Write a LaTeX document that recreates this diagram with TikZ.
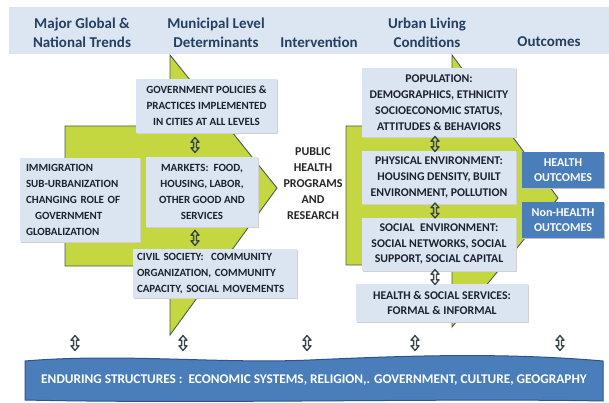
\documentclass[tikz,border=0pt]{standalone}
\usepackage{fontspec}
\setmainfont{Carlito}
\definecolor{lime}{RGB}{196,214,64}
\definecolor{limeedge}{RGB}{70,95,80}
\definecolor{boxblue}{RGB}{219,229,241}
\definecolor{hdrblue}{RGB}{220,230,242}
\definecolor{outblue}{RGB}{74,126,187}
\definecolor{outedge}{RGB}{47,82,143}
\definecolor{hdrtext}{RGB}{36,63,96}
\definecolor{boxtext}{RGB}{28,34,44}
\definecolor{arrowgray}{RGB}{55,68,72}
\tikzset{
  box/.style={fill=boxblue, text=boxtext, inner sep=0pt, align=center,
    font=\bfseries\fontsize{11}{16}\selectfont,
    preaction={fill=black!18, transform canvas={xshift=1.2pt,yshift=-1.2pt}}},
  rbox/.style={box, font=\bfseries\fontsize{11.8}{15.8}\selectfont},
  hdr/.style={text=hdrtext, align=center, inner sep=0pt,
    font=\bfseries\fontsize{15}{19}\selectfont},
  outbox/.style={fill=outblue, text=white, inner sep=0pt, align=center,
    minimum width=82pt, minimum height=36pt,
    font=\bfseries\fontsize{12}{15}\selectfont,
    preaction={fill=black!25, transform canvas={xshift=1.2pt,yshift=-1.2pt}}},
  greenshape/.style={fill=lime, draw=limeedge, line width=0.9pt, line join=miter},
  dblline/.style={draw=arrowgray, line width=1.3pt, line join=round},
  updown/.pic={
    \path[dblline] (0,-7.5) -- (4,-2.8) -- (1.4,-2.8) -- (1.4,2.8) -- (4,2.8)
      -- (0,7.5) -- (-4,2.8) -- (-1.4,2.8) -- (-1.4,-2.8) -- (-4,-2.8) -- cycle;
  }
}
\begin{document}
\begin{tikzpicture}[x=1pt,y=-1pt]
\useasboundingbox (0,0) rectangle (609,403);
\fill[white] (0,0) rectangle (609,403);

% header band
\node[fill=hdrblue, minimum width=600pt, minimum height=47pt, inner sep=0pt, anchor=north west] (header) at (9,7) {};
\node[hdr] (trends) at (82,33) {Major Global \&\\National Trends};
\node[hdr] (muni) at (216,33) {Municipal Level\\Determinants};
\node[hdr] (interv) at (319,42) {Intervention};
\node[hdr] (urban) at (427,33) {Urban Living\\Conditions};
\node[hdr] (outc) at (549,42) {Outcomes};

% green shapes
\draw[greenshape] (170,55) -- (277,188) -- (170,335) -- (170,266) -- (65,266) -- (65,126) -- (170,126) -- cycle;
\draw[greenshape] (452,55) -- (558,198) -- (452,327) -- (452,265) -- (346,265) -- (346,126) -- (452,126) -- cycle;

% left boxes
\node[box, minimum width=141pt, minimum height=54pt] (gov) at (206.5,106)
  {GOVERNMENT POLICIES \&\\PRACTICES IMPLEMENTED\\IN CITIES AT ALL LEVELS};
\node[box, minimum width=112pt, minimum height=70pt] (markets) at (202,192)
  {MARKETS:\ \ FOOD,\\HOUSING, LABOR,\\OTHER GOOD AND\\SERVICES};
\node[box, align=left, text width=108pt, minimum width=120pt, minimum height=84pt] (immig) at (80,200)
  {IMMIGRATION\\SUB-URBANIZATION\\CHANGING ROLE OF\\\hspace*{9pt}GOVERNMENT\\GLOBALIZATION};
\node[box, align=left, text width=156pt, minimum width=164pt, minimum height=49pt] (civil) at (215,273.5)
  {CIVIL SOCIETY:\ \ COMMUNITY\\ORGANIZATION, COMMUNITY\\CAPACITY, SOCIAL MOVEMENTS};

% intervention label
\node[align=center, inner sep=0pt, text=black!85, font=\bfseries\fontsize{12}{16}\selectfont] (php) at (313,184)
  {PUBLIC\\HEALTH\\PROGRAMS\\AND\\RESEARCH};

% right boxes
\node[rbox, minimum width=154pt, minimum height=69pt] (pop) at (439,102.5)
  {POPULATION:\\DEMOGRAPHICS, ETHNICITY\\SOCIOECONOMIC STATUS,\\ATTITUDES \& BEHAVIORS};
\node[rbox, minimum width=154pt, minimum height=53pt] (phys) at (439,177.5)
  {PHYSICAL ENVIRONMENT:\\HOUSING DENSITY, BUILT\\ENVIRONMENT, POLLUTION};
\node[rbox, minimum width=154pt, minimum height=53pt] (social) at (439,244)
  {SOCIAL\ \ ENVIRONMENT:\\SOCIAL NETWORKS, SOCIAL\\SUPPORT, SOCIAL CAPITAL};
\node[rbox, minimum width=172pt, minimum height=38pt] (hss) at (442,303)
  {HEALTH \& SOCIAL SERVICES:\\FORMAL \& INFORMAL};

% outcomes
\node[outbox] (hout) at (563,170) {HEALTH\\OUTCOMES};
\node[outbox] (nhout) at (563,220) {Non-HEALTH\\OUTCOMES};

% double arrows between boxes
\pic (a1) at (195,145) {updown};
\pic (a2) at (195,238) {updown};
\pic (a3) at (435,144) {updown};
\pic (a4) at (435,210.5) {updown};
\pic (a5) at (435,277) {updown};

% enduring structures band
\draw[fill=outblue, draw=outedge, line width=1pt]
  (25,361) .. controls (120,353) and (220,364) .. (310,360)
  .. controls (400,356) and (500,352) .. (603,361)
  -- (603,401) .. controls (450,398) and (200,404) .. (25,400) -- cycle;
\node[text=white, inner sep=0pt, font=\bfseries\fontsize{13.3}{15}\selectfont] (enduring) at (314,380)
  {ENDURING STRUCTURES :\ \ ECONOMIC SYSTEMS, RELIGION,. GOVERNMENT, CULTURE, GEOGRAPHY};

\pic (b1) at (75,343) {updown};
\pic (b2) at (183,343) {updown};
\pic (b3) at (307,343) {updown};
\pic (b4) at (415,343) {updown};
\pic (b5) at (560,343) {updown};
\end{tikzpicture}
\end{document}
